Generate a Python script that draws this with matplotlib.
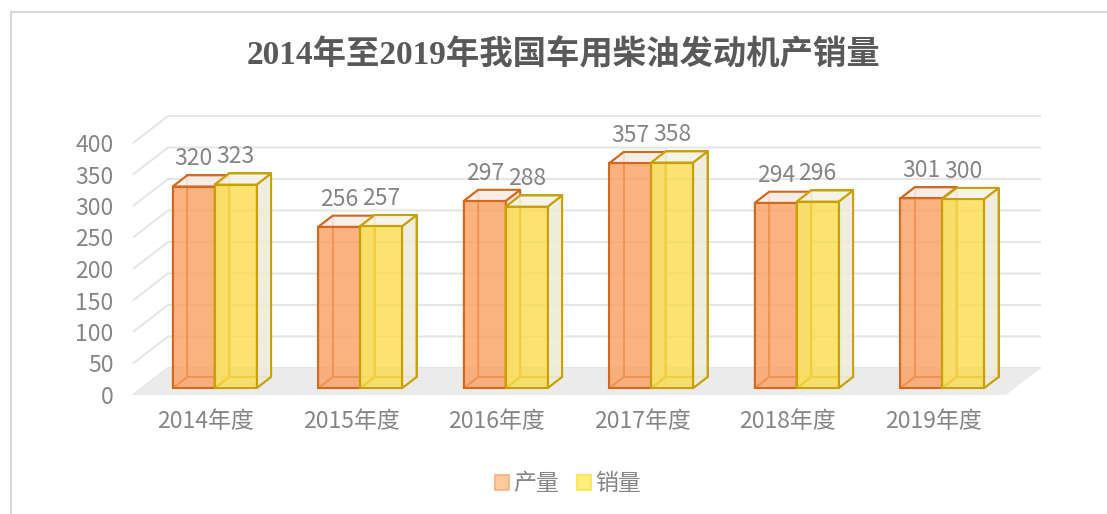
import matplotlib
matplotlib.use('Agg')
import matplotlib.pyplot as plt
from matplotlib.patches import Polygon, Patch
from matplotlib.lines import Line2D

plt.rcParams['font.family'] = ['Noto Sans CJK SC', 'DejaVu Sans']
plt.rcParams['font.weight'] = 'light'

# ---------------- data ----------------
categories = ['2014年度', '2015年度', '2016年度', '2017年度', '2018年度', '2019年度']
production = [320, 256, 297, 357, 294, 301]
sales = [323, 257, 288, 358, 296, 300]
series_names = ['产量', '销量']
yticks = [0, 50, 100, 150, 200, 250, 300, 350, 400]
title = '2014年至2019年我国车用柴油发动机产销量'

# ---------------- styling ----------------
W, H = 1107, 514
fig = plt.figure(figsize=(W / 100, H / 100), dpi=100)
ax = fig.add_axes([133 / W, 119 / H, 873 / W, 252 / H])
ax.set_xlim(-0.5, len(categories) - 0.5)
ax.set_ylim(0, 400)
ax.patch.set_visible(False)
for s in ax.spines.values():
    s.set_visible(False)

# oblique depth projection (depth offset expressed in data units)
DX = 35 / (873 / len(categories))
DY = 27 * 400 / 252


def P(x, y, z):
    return (x + z * DX, y + z * DY)


grid_c = '#E6E6E6'
text_c = '#858585'
fs = 16.5

# floor
nC = len(categories)
ax.add_patch(Polygon([P(-0.5, 0, 0), P(nC - 0.5, 0, 0), P(nC - 0.5, 0, 1), P(-0.5, 0, 1)],
                     closed=True, fc='#EBEBEB', ec='none', zorder=1, clip_on=False))

# back-wall and left-wall grid lines
for y in yticks:
    a = P(-0.5, y, 0)
    b = P(-0.5, y, 1)
    c = P(nC - 0.5, y, 1)
    ax.plot([a[0], b[0], c[0]], [a[1], b[1], c[1]], color=grid_c, lw=1.5,
            clip_on=False, zorder=0.5, solid_capstyle='butt')

w = 0.288
z1, z2 = 0.255, 0.67

styles = [
    dict(front=(0.976, 0.624, 0.376, 0.8), edge='#D2691E', side=(0.97, 0.90, 0.85, 0.85),
         top=(0.975, 0.92, 0.90, 0.9)),
    dict(front=(0.98, 0.86, 0.30, 0.8), edge='#C9A000', side=(0.935, 0.92, 0.86, 0.9),
         top=(0.965, 0.95, 0.90, 0.9)),
]

series = [production, sales]
for si, vals in enumerate(series):
    st = styles[si]
    for i, v in enumerate(vals):
        x0 = i - w + si * w
        x1 = x0 + w
        faces_back = [
            [P(x0, 0, z2), P(x1, 0, z2), P(x1, v, z2), P(x0, v, z2)],
            [P(x0, 0, z1), P(x0, 0, z2), P(x0, v, z2), P(x0, v, z1)],
            [P(x0, 0, z1), P(x1, 0, z1), P(x1, 0, z2), P(x0, 0, z2)],
        ]
        for f in faces_back:
            ax.add_patch(Polygon(f, closed=True, fc='none', ec=st['edge'], lw=1.3,
                                 zorder=2 + si, clip_on=False, joinstyle='miter'))
        right = [P(x1, 0, z1), P(x1, 0, z2), P(x1, v, z2), P(x1, v, z1)]
        top = [P(x0, v, z1), P(x1, v, z1), P(x1, v, z2), P(x0, v, z2)]
        ax.add_patch(Polygon(right, closed=True, fc=st['side'], ec=st['edge'], lw=1.5,
                             zorder=2 + si, clip_on=False, joinstyle='miter'))
        ax.add_patch(Polygon(top, closed=True, fc=st['top'], ec=st['edge'], lw=1.5,
                             zorder=2 + si, clip_on=False, joinstyle='miter'))
    # front faces through the library's bar
    xs = [i - w / 2 + si * w + z1 * DX for i in range(nC)]
    ax.bar(xs, vals, width=w, bottom=z1 * DY, color=st['front'], edgecolor=st['edge'],
           linewidth=1.5, zorder=2.5 + si, clip_on=False)
    for x, v in zip(xs, vals):
        ax.text(x, v + z1 * DY + 44, str(v), ha='center', va='center', fontsize=fs,
                color=text_c, zorder=10)

# ticks
ax.set_yticks(yticks)
ax.set_yticklabels([str(t) for t in yticks])
ax.set_xticks(range(nC))
ax.set_xticklabels(categories)
ax.tick_params(axis='y', length=0, pad=14, labelsize=fs, labelcolor=text_c)
ax.tick_params(axis='x', length=0, pad=11, labelsize=fs, labelcolor=text_c)

# title
fig.text(564 / W, 1 - 55 / H, title, ha='center', va='center', fontsize=24,
         fontweight='bold', color='#595959', family=['Liberation Serif', 'Noto Sans CJK SC'])

# legend
handles = [Patch(fc='#FBCB9C', ec='#F6B27E', lw=1.2), Patch(fc='#FFF07C', ec='#FFE24E', lw=1.2)]
fig.legend(handles, series_names, loc='center', bbox_to_anchor=(568 / W, 1 - 484 / H), ncol=2,
           frameon=False, fontsize=fs, handlelength=0.6, handleheight=0.6, handletextpad=0.2,
           columnspacing=0.8, labelcolor=text_c)

# chart border
fig.add_artist(Line2D([11 / W, 11 / W, 1.0], [0.0, 1 - 12 / H, 1 - 12 / H], transform=fig.transFigure,
                      color='#D9D9D9', lw=1.5))

fig.savefig('out.png', dpi=100)
